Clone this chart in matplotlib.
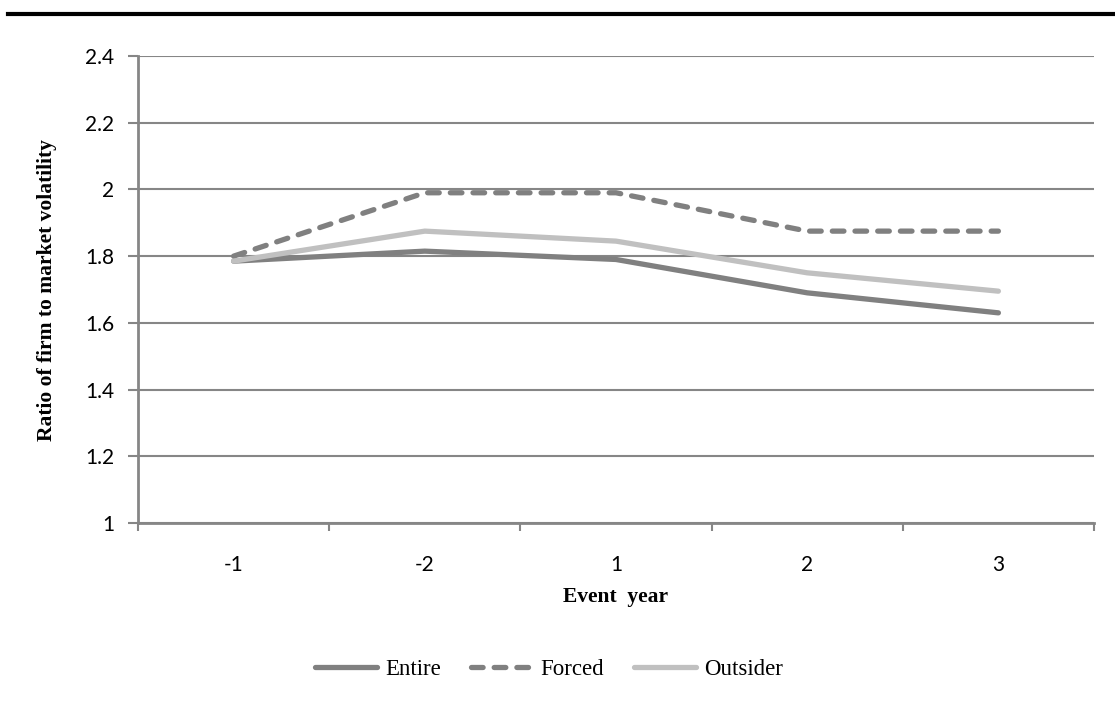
import matplotlib.pyplot as plt
import numpy as np
from matplotlib.lines import Line2D

# Data
years = ['-1', '-2', '1', '2', '3']
entire = [1.785, 1.815, 1.790, 1.690, 1.630]
forced = [1.800, 1.990, 1.990, 1.875, 1.875]
outsider = [1.785, 1.875, 1.845, 1.750, 1.695]
y_ticks = [1, 1.2, 1.4, 1.6, 1.8, 2, 2.2, 2.4]
y_tick_labels = ['1', '1.2', '1.4', '1.6', '1.8', '2', '2.2', '2.4']

W, H = 1115, 717
fig = plt.figure(figsize=(W / 100, H / 100), dpi=100)

# Axes placement in pixels (left, top, right, bottom)
L, T, R, B = 138, 56, 1094, 523
ax = fig.add_axes([L / W, 1 - B / H, (R - L) / W, (B - T) / H])

grey = '#868686'
dash = (0, (2.2, 2.1))
x = np.arange(len(years))
ax.plot(x, entire, color='#808080', lw=3.8, solid_capstyle='round', label='Entire')
ax.plot(x, forced, color='#808080', lw=3.8, ls=dash, dash_capstyle='round', label='Forced')
ax.plot(x, outsider, color='#c0c0c0', lw=3.8, solid_capstyle='round', label='Outsider')

ax.set_xlim(-0.5, len(years) - 0.5)
ax.set_ylim(1, 2.4)
ax.set_yticks(y_ticks)
ax.set_yticklabels(y_tick_labels)
ax.yaxis.grid(True, color=grey, lw=1.5)
ax.set_axisbelow(True)

ax.set_xticks(x)
ax.set_xticklabels(years)
ax.set_xticks(np.arange(-0.5, len(years)), minor=True)
ax.tick_params(axis='x', which='major', length=0, pad=23)
ax.tick_params(axis='x', which='minor', length=6, color=grey, width=1.5)
ax.tick_params(axis='y', length=7, color=grey, width=1.5, pad=10)
for lab in ax.get_xticklabels() + ax.get_yticklabels():
    lab.set_fontfamily('Lato')
    lab.set_fontsize(15)
    lab.set_color('black')

for s in ['top', 'right']:
    ax.spines[s].set_visible(False)
for s in ['left', 'bottom']:
    ax.spines[s].set_color(grey)
    ax.spines[s].set_linewidth(2)

ax.set_xlabel('Event  year', fontfamily='Liberation Serif', fontweight='bold', fontsize=15.5, labelpad=9)
ax.set_ylabel('Ratio of firm to market volatility', fontfamily='Liberation Serif', fontweight='bold',
              fontsize=15.5)
ax.yaxis.set_label_coords(57 / W, 1 - 290 / H, transform=fig.transFigure)

handles = [Line2D([], [], color='#808080', lw=3.8, solid_capstyle='round'),
           Line2D([], [], color='#808080', lw=3.8, ls=dash, dash_capstyle='round'),
           Line2D([], [], color='#c0c0c0', lw=3.8, solid_capstyle='round')]
fig.legend(handles, ['Entire', 'Forced', 'Outsider'], loc='center', bbox_to_anchor=(549 / W, 1 - 669 / H),
           ncol=3, frameon=False, prop={'family': 'Liberation Serif', 'size': 16.5},
           handlelength=2.7, handletextpad=0.35, columnspacing=1.3)

# Thick rule across the top of the page
fig.add_artist(Line2D([8 / W, 1], [1 - 13.5 / H, 1 - 13.5 / H], color='black', lw=3, transform=fig.transFigure))

fig.savefig('out.png', dpi=100)
